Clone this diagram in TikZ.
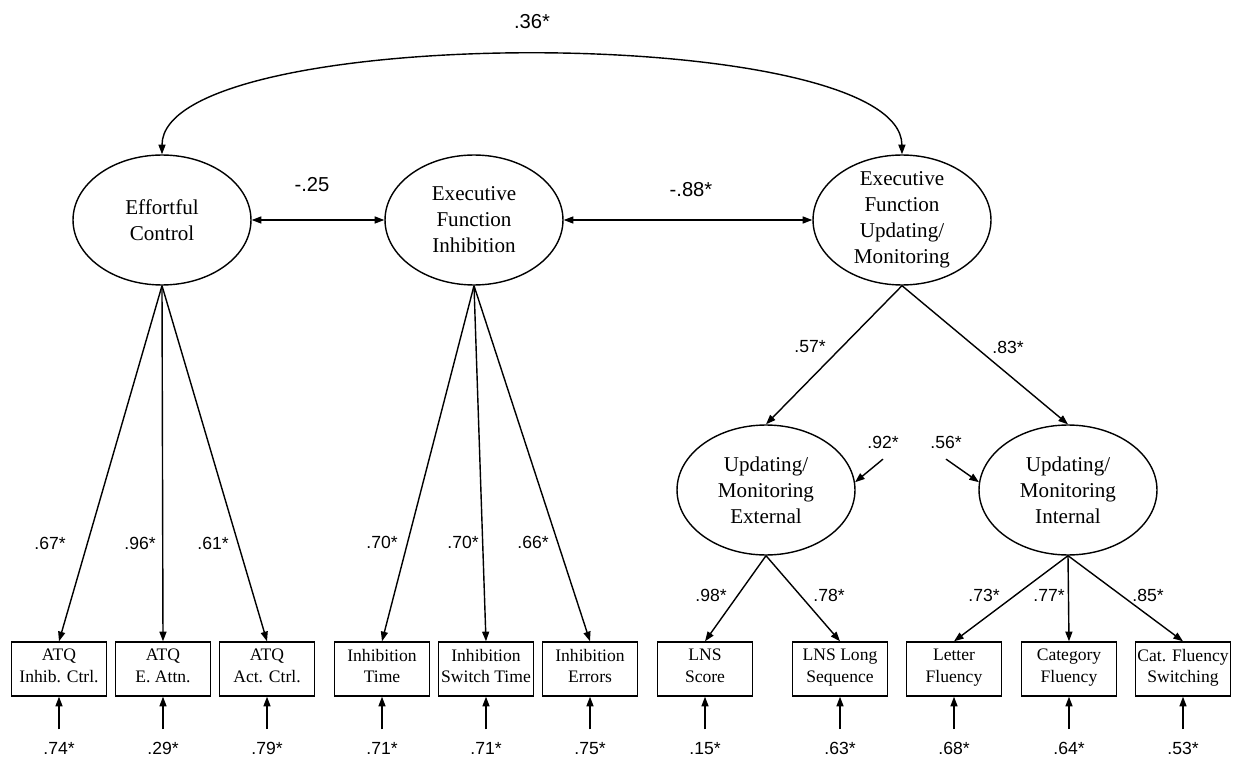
\documentclass[tikz,border=0pt]{standalone}
\usepackage{fontspec}
\setmainfont{Liberation Serif}
\newfontfamily\numfont{Liberation Sans}
\usetikzlibrary{arrows.meta,shapes.geometric,positioning}

\begin{document}
\begin{tikzpicture}[x=0.02cm,y=-0.02cm,
	latent/.style={draw,ellipse,line width=0.8pt,minimum width=3.56cm,minimum height=2.6cm,inner sep=0pt,align=center,font=\fontsize{12}{14.8}\selectfont},
	obs/.style={draw,rectangle,line width=0.8pt,minimum width=1.9cm,minimum height=1.08cm,inner sep=0pt,align=center,font=\fontsize{10}{12.3}\selectfont,execute at begin node=\strut,execute at end node=\strut},
	num/.style={font=\numfont\fontsize{10}{12}\selectfont,inner sep=1pt},
	bignum/.style={font=\numfont\fontsize{11.5}{13}\selectfont,inner sep=1pt},
	onehead/.style={-{Triangle[length=5.5pt,width=4pt]},line width=0.8pt},
	twohead/.style={{Triangle[length=5.5pt,width=4pt]}-{Triangle[length=5.5pt,width=4pt]},line width=0.8pt}]
 	\useasboundingbox (0,0) rectangle (1238,760);
 	\node[latent] (ec) at (162,220) {Effortful\\Control};
 	\node[latent] (efi) at (474,220) {Executive\\Function\\Inhibition};
 	\node[latent,inner sep=-3pt] (efu) at (902,220) {Executive\\Function\\Updating/\\Monitoring};
 	\node[latent] (ume) at (766,490) {Updating/\\Monitoring\\External};
 	\node[latent] (umi) at (1068,490) {Updating/\\Monitoring\\Internal};
 	\node[obs] (b1) at (59,669) {ATQ\\Inhib. Ctrl.};
 	\node[obs] (b2) at (163,669) {ATQ\\E. Attn.};
 	\node[obs] (b3) at (267,669) {ATQ\\Act. Ctrl.};
 	\node[obs] (b4) at (382,669) {Inhibition\\Time};
 	\node[obs] (b5) at (486,669) {Inhibition\\Switch Time};
 	\node[obs] (b6) at (590,669) {Inhibition\\Errors};
 	\node[obs] (b7) at (705,669) {LNS\\Score};
 	\node[obs] (b8) at (840,669) {LNS Long\\Sequence};
 	\node[obs] (b9) at (954,669) {Letter\\Fluency};
 	\node[obs] (b10) at (1069,669) {Category\\Fluency};
 	\node[obs] (b11) at (1183,669) {Cat. Fluency\\Switching};
 	\draw[twohead] (ec.north) .. controls (162,22) and (901,22) .. (efu.north);
 	\draw[twohead] (ec) -- (efi);
 	\draw[twohead] (efi) -- (efu);
 	\node[bignum] (c1) at (532,22) {.36*};
 	\node[bignum] (c2) at (312,185) {-.25};
 	\node[bignum] (c3) at (691,190) {-.88*};
 	\foreach \b in {b1,b2,b3} \draw[onehead] (ec.south) -- (\b.north);
 	\foreach \b in {b4,b5,b6} \draw[onehead] (efi.south) -- (\b.north);
 	\foreach \b in {b7,b8} \draw[onehead] (ume.south) -- (\b.north);
 	\foreach \b in {b9,b10,b11} \draw[onehead] (umi.south) -- (\b.north);
 	\draw[onehead] (efu.south) -- (ume.north);
 	\draw[onehead] (efu.south) -- (umi.north);
 	\node[num] (l1) at (50,543) {.67*};
 	\node[num] (l2) at (140,543) {.96*};
 	\node[num] (l3) at (213,543) {.61*};
 	\node[num] (l4) at (382,542) {.70*};
 	\node[num] (l5) at (463,542) {.70*};
 	\node[num] (l6) at (533,542) {.66*};
 	\node[num] (l7) at (810,347) {.57*};
 	\node[num] (l8) at (1008,347) {.83*};
 	\node[num] (l9) at (711,595) {.98*};
 	\node[num] (l10) at (829,595) {.78*};
 	\node[num] (l11) at (984,595) {.73*};
 	\node[num] (l12) at (1049,595) {.77*};
 	\node[num] (l13) at (1148,595) {.85*};
 	\node[num] (d1) at (883,442) {.92*};
 	\node[num] (d2) at (946,442) {.56*};
 	\draw[onehead] ([yshift=-5pt]d1.south) -- (ume.5);
 	\draw[onehead] ([yshift=-5pt]d2.south) -- (umi.175);
 	\foreach \b/\v [count=\i] in {b1/.74*,b2/.29*,b3/.79*,b4/.71*,b5/.71*,b6/.75*,b7/.15*,b8/.63*,b9/.68*,b10/.64*,b11/.53*}{
 		\node[num] (r\i) at ([yshift=-45pt]\b.center) {\v};
 		\draw[onehead] ([yshift=6pt]r\i.north) -- (\b.south);
 	}
\end{tikzpicture}
\end{document}
